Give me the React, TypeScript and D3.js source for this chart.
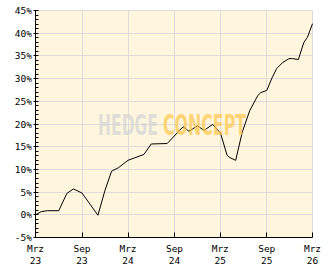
import React from "react";
import * as d3 from "d3";

const dates: string[] = [
  "2023-03-01", "2023-03-24", "2023-04-17", "2023-06-01", "2023-07-03", "2023-07-29",
  "2023-09-01", "2023-11-03", "2023-12-01", "2023-12-27", "2024-01-24", "2024-03-01",
  "2024-05-03", "2024-06-01", "2024-08-03", "2024-10-05", "2024-10-28", "2024-12-01",
  "2024-12-27", "2025-01-30", "2025-03-02", "2025-03-28", "2025-04-08", "2025-05-01",
  "2025-05-27", "2025-06-26", "2025-07-28", "2025-08-08", "2025-09-01", "2025-09-23",
  "2025-10-10", "2025-11-02", "2025-11-28", "2025-12-11", "2026-01-04", "2026-01-26",
  "2026-02-09", "2026-03-01",
];
const values: number[] = [
  0.0, 0.7, 0.9, 0.9, 4.7, 5.7,
  4.8, -0.1, 5.4, 9.6, 10.4, 12.0,
  13.3, 15.6, 15.7, 19.4, 18.4, 19.6,
  18.6, 19.9, 18.0, 13.1, 12.6, 12.0,
  18.2, 23.0, 26.3, 26.9, 27.4, 30.3,
  32.2, 33.5, 34.4, 34.4, 34.2, 38.0,
  39.1, 42.1,
];
const yTicks: number[] = [-5, 0, 5, 10, 15, 20, 25, 30, 35, 40, 45];
const xTickDates: string[] = ["2023-03-01", "2023-09-01", "2024-03-01", "2024-09-01", "2025-03-01", "2025-09-01", "2026-03-01"];
const xTickMonths: string[] = ["Mrz", "Sep", "Mrz", "Sep", "Mrz", "Sep", "Mrz"];
const xTickYears: string[] = ["23", "23", "24", "24", "25", "25", "26"];

const W = 332;
const H = 269;
const L = 35.5;
const R = 312.5;
const T = 10.5;
const B = 237.5;
const SX = 0.56;

export default function App() {
  const parse = d3.utcParse("%Y-%m-%d");
  const x = d3
    .scaleUtc()
    .domain([parse("2023-03-01")!, parse("2026-03-01")!])
    .range([L, R]);
  const y = d3.scaleLinear().domain([-5, 45]).range([B, T]);
  const data = dates.map((d, i) => ({ d: parse(d)!, v: values[i] }));
  const line = d3
    .line<{ d: Date; v: number }>()
    .x((p) => x(p.d))
    .y((p) => y(p.v));
  const minor = d3.range(-5, 46, 1);
  const font = "'DejaVu Sans Mono', monospace";
  const grid = "#dcdcdc";
  const wm = "'DejaVu Sans', sans-serif";

  return (
    <svg
      width={W}
      height={H}
      style={{ position: "absolute", left: 0, top: 0, background: "#ffffff" }}
    >
      <rect x={L} y={T} width={R - L} height={B - T} fill="#fff6dd" />
      {yTicks.slice(1).map((t) => (
        <line key={"gy" + t} x1={L} x2={R} y1={Math.round(y(t) - 0.5) + 0.5} y2={Math.round(y(t) - 0.5) + 0.5} stroke={grid} />
      ))}
      {xTickDates.slice(1).map((t) => {
        const xx = Math.round(x(parse(t)!) - 0.5) + 0.5;
        return <line key={"gx" + t} x1={xx} x2={xx} y1={T} y2={B} stroke={grid} />;
      })}
      <path d={line(data) || ""} fill="none" stroke="#000" strokeWidth={1} />
      <text
        transform={`translate(98,134.5) scale(${SX},1)`}
        fontSize={28}
        fontWeight="bold"
        fontFamily={wm}
        fill="#d6d6d6"
        fillOpacity={0.8}
        textLength={60 / SX}
        lengthAdjust="spacingAndGlyphs"
      >
        HEDGE
      </text>
      <text
        transform={`translate(163,134.5) scale(${SX},1)`}
        fontSize={28}
        fontWeight="bold"
        fontFamily={wm}
        fill="#ffc54a"
        fillOpacity={0.7}
        textLength={83 / SX}
        lengthAdjust="spacingAndGlyphs"
      >
        CONCEPT
      </text>
      {/* axes */}
      <line x1={L} x2={L} y1={T} y2={B} stroke="#000" />
      <line x1={L} x2={R} y1={B} y2={B} stroke="#000" />
      {minor.map((t) => {
        const yy = Math.round(y(t) - 0.5) + 0.5;
        const major = t % 5 === 0;
        return <line key={"m" + t} x1={major ? L - 2 : L} x2={L + 3} y1={yy} y2={yy} stroke="#000" />;
      })}
      {xTickDates.map((t) => {
        const xx = Math.round(x(parse(t)!) - 0.5) + 0.5;
        return <line key={"tx" + t} x1={xx} x2={xx} y1={B} y2={B - 5} stroke="#000" />;
      })}
      {yTicks.map((t) => (
        <text key={"yl" + t} x={32} y={y(t) + 3.5} fontSize={9.5} fontFamily={font} textAnchor="end" fill="#000">
          {t + "%"}
        </text>
      ))}
      {xTickDates.map((t, i) => {
        const xx = x(parse(t)!);
        return (
          <g key={"xl" + t}>
            <text x={xx} y={252} fontSize={9.5} fontFamily={font} textAnchor="middle" fill="#000">
              {xTickMonths[i]}
            </text>
            <text x={xx} y={263.5} fontSize={9.5} fontFamily={font} textAnchor="middle" fill="#000">
              {xTickYears[i]}
            </text>
          </g>
        );
      })}
    </svg>
  );
}
